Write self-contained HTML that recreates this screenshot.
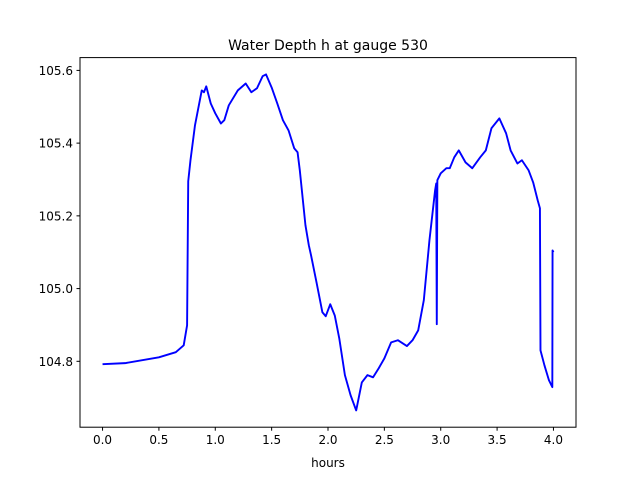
<!DOCTYPE html>
<html><head><meta charset="utf-8"><style>
body{margin:0;background:#fff;}
text{font-family:"DejaVu Sans","Liberation Sans",sans-serif;}
</style></head><body>
<svg id="chart" width="640" height="480" xmlns="http://www.w3.org/2000/svg">
<rect width="640" height="480" fill="#fff"/>
<text x="328" y="50" text-anchor="middle" font-size="14">Water Depth h at gauge 530</text>
<g id="plot"></g>
<rect x="80" y="57.6" width="496" height="369.6" fill="none" stroke="#000" stroke-width="1"/>
<text x="328" y="467" text-anchor="middle" font-size="12">hours</text>
</svg>
<script>
const times=[0,0.2,0.5,0.65,0.72,0.75,0.76,0.78,0.82,0.88,0.9,0.92,0.96,1.0,1.05,1.08,1.12,1.2,1.27,1.32,1.37,1.42,1.45,1.5,1.55,1.6,1.65,1.7,1.73,1.75,1.8,1.83,1.85,1.9,1.95,1.98,2.02,2.06,2.1,2.15,2.2,2.25,2.3,2.35,2.4,2.45,2.5,2.56,2.62,2.7,2.75,2.8,2.85,2.9,2.95,2.96,2.965,2.97,3.0,3.05,3.08,3.12,3.16,3.22,3.28,3.35,3.4,3.45,3.52,3.58,3.62,3.68,3.72,3.78,3.82,3.86,3.88,3.885,3.92,3.96,3.99,3.992,4.0];
const depth=[104.792,104.795,104.811,104.825,104.844,104.899,105.295,105.353,105.449,105.545,105.540,105.556,105.509,105.482,105.454,105.463,105.504,105.545,105.564,105.540,105.551,105.584,105.589,105.553,105.509,105.463,105.435,105.386,105.375,105.325,105.174,105.119,105.091,105.014,104.935,104.924,104.957,104.926,104.863,104.762,104.707,104.665,104.742,104.762,104.756,104.781,104.808,104.852,104.858,104.842,104.858,104.885,104.968,105.133,105.270,105.289,104.902,105.298,105.317,105.331,105.331,105.361,105.380,105.347,105.331,105.361,105.380,105.441,105.468,105.427,105.380,105.344,105.353,105.325,105.292,105.243,105.221,104.830,104.789,104.748,104.729,105.105,105.100];
const xTicks=[0,0.5,1,1.5,2,2.5,3,3.5,4];
const xTickLabels=["0.0","0.5","1.0","1.5","2.0","2.5","3.0","3.5","4.0"];
const yTicks=[104.8,105.0,105.2,105.4,105.6];
const yTickLabels=["104.8","105.0","105.2","105.4","105.6"];
const NS="http://www.w3.org/2000/svg";
const L=80,R=576,T=57.6,B=427.2;
const xmin=-0.2,xmax=4.2;
const ymin=Math.min(...depth),ymax=Math.max(...depth),pad=(ymax-ymin)*0.05;
const y0=ymin-pad,y1=ymax+pad;
const sx=v=>L+(v-xmin)/(xmax-xmin)*(R-L);
const sy=v=>B-(v-y0)/(y1-y0)*(B-T);
const g=document.getElementById('plot');
function mk(tag,attrs){const e=document.createElementNS(NS,tag);for(const k in attrs)e.setAttribute(k,attrs[k]);g.appendChild(e);return e;}
xTicks.forEach((v,i)=>{
  const t=mk('line',{x1:sx(v),x2:sx(v),y1:B,y2:B+3.5,stroke:'#000'});
  
  
  const l=mk('text',{x:sx(v),y:B+17,'text-anchor':'middle','font-size':'12'});
  l.textContent=xTickLabels[i];
  
  
});
yTicks.forEach((v,i)=>{
  const t=mk('line',{x1:L-3.5,x2:L,y1:sy(v),y2:sy(v),stroke:'#000'});
  
  
  const l=mk('text',{x:L-7,y:sy(v)+4.5,'text-anchor':'end','font-size':'12'});
  l.textContent=yTickLabels[i];
  
  
});
const p=mk('polyline',{points:times.map((t,i)=>sx(t)+','+sy(depth[i])).join(' '),fill:'none',stroke:'#0000ff','stroke-width':'1.9','stroke-linejoin':'round'});


</script>
</body></html>
